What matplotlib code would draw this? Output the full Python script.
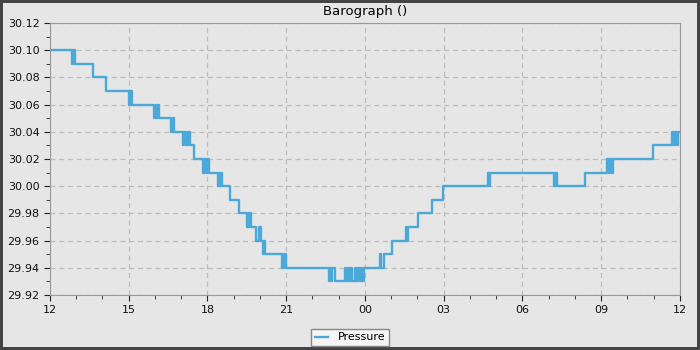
import matplotlib
matplotlib.use("Agg")
import matplotlib.pyplot as plt
import matplotlib.dates as mdates
from matplotlib.ticker import MultipleLocator
import pandas as pd

# readings: hours after 12:00 and pressure (inHg)
hours = [0.00, 0.84, 0.88, 0.95, 1.63, 2.12, 3.01, 3.05, 3.12, 3.96,
         4.02, 4.08, 4.12, 4.15, 4.61, 4.68, 4.74, 5.05, 5.10, 5.18,
         5.24, 5.33, 5.49, 5.83, 5.90, 5.98, 6.02, 6.06, 6.40, 6.46,
         6.55, 6.86, 7.20, 7.50, 7.58, 7.66, 7.85, 7.95, 8.04, 8.11,
         8.15, 8.19, 8.84, 8.92, 8.99, 10.63, 10.68, 10.72, 10.76, 10.86,
         11.24, 11.28, 11.34, 11.42, 11.48, 11.52, 11.62, 11.66, 11.72, 11.80,
         11.86, 11.90, 11.95, 12.57, 12.62, 12.72, 13.03, 13.56, 13.60, 13.64,
         14.02, 14.55, 14.97, 16.69, 16.72, 16.76, 19.20, 19.25, 19.31, 20.38,
         21.22, 21.28, 21.34, 21.40, 21.45, 22.97, 23.70, 23.76, 23.82, 23.88,
         23.92, 24.00]
pressure = [30.10, 30.09, 30.10, 30.09, 30.08, 30.07, 30.06, 30.07, 30.06, 30.05,
            30.06, 30.05, 30.06, 30.05, 30.04, 30.05, 30.04, 30.03, 30.04, 30.03,
            30.04, 30.03, 30.02, 30.01, 30.02, 30.01, 30.02, 30.01, 30.00, 30.01,
            30.00, 29.99, 29.98, 29.97, 29.98, 29.97, 29.96, 29.97, 29.96, 29.95,
            29.96, 29.95, 29.94, 29.95, 29.94, 29.93, 29.94, 29.93, 29.94, 29.93,
            29.94, 29.93, 29.94, 29.93, 29.94, 29.93, 29.94, 29.93, 29.94, 29.93,
            29.94, 29.93, 29.94, 29.95, 29.94, 29.95, 29.96, 29.97, 29.96, 29.97,
            29.98, 29.99, 30.00, 30.01, 30.00, 30.01, 30.00, 30.01, 30.00, 30.01,
            30.02, 30.01, 30.02, 30.01, 30.02, 30.03, 30.04, 30.03, 30.04, 30.03,
            30.04, 30.04]

start = pd.Timestamp("2024-01-01 12:00")
times = start + pd.to_timedelta(hours, unit="h")

bg = "#e6e6e6"
fig = plt.figure(figsize=(7, 3.5), dpi=100, facecolor=bg)
fig.patch.set_edgecolor("#444444")
fig.patch.set_linewidth(3)
ax = fig.add_axes([0.0714, 0.157, 0.9, 0.777])
ax.set_facecolor(bg)

ax.plot(times, pressure, drawstyle="steps-post", color="#4ba9da", lw=1.7, label="Pressure")

ax.set_xlim(start, start + pd.Timedelta(hours=24))
ax.set_ylim(29.92, 30.12)
ax.xaxis.set_major_locator(mdates.HourLocator(byhour=range(0, 24, 3)))
ax.xaxis.set_minor_locator(mdates.HourLocator())
ax.xaxis.set_major_formatter(mdates.DateFormatter("%H"))
ax.yaxis.set_major_locator(MultipleLocator(0.02))
ax.yaxis.set_minor_locator(MultipleLocator(0.01))
ax.yaxis.set_major_formatter(plt.FormatStrFormatter("%.2f"))

ax.grid(True, which="major", ls=(0, (4, 3)), color="#bdbdbd", lw=0.9)
ax.tick_params(which="major", length=4, labelsize=8, color="#222222", labelcolor="#111111")
ax.tick_params(which="minor", length=3, color="#222222")
for s in ax.spines.values():
    s.set_color("#999999")

ax.set_title("Barograph ()", fontsize=9.5, pad=6)

leg = fig.legend(loc="lower center", bbox_to_anchor=(0.5, 0.012), fontsize=8,
                 fancybox=False, framealpha=1, facecolor="#f5f5f5", edgecolor="#888888",
                 handlelength=1.2, borderpad=0.3, handletextpad=0.9, borderaxespad=0)

fig.savefig("out.png", dpi=100, facecolor=bg, edgecolor="#444444")
